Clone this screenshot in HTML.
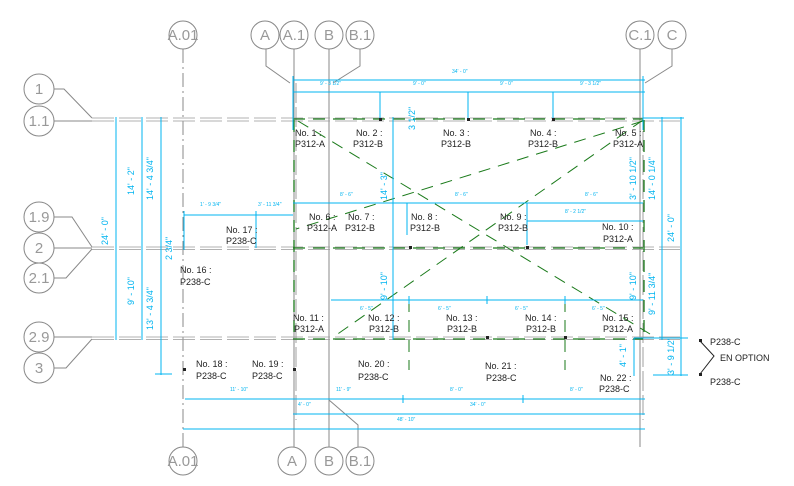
<!DOCTYPE html>
<html><head><meta charset="utf-8"><style>
html,body{margin:0;padding:0;background:#fff;}
svg{display:block;}
.t{font-family:"Liberation Sans",sans-serif;font-size:9px;fill:#222;}
.b{font-family:"Liberation Sans",sans-serif;font-size:15px;fill:#999;text-anchor:middle;}
.d{font-family:"Liberation Sans",sans-serif;font-size:9px;fill:#00b4f0;}
.s{font-family:"Liberation Sans",sans-serif;font-size:5px;fill:#00b4f0;}
</style></head><body>
<svg width="794" height="486" viewBox="0 0 794 486" xmlns="http://www.w3.org/2000/svg">
<g fill="none" stroke="#888" stroke-width="1">
<circle cx="183" cy="35" r="14"/><circle cx="265" cy="35" r="14"/><circle cx="294" cy="35" r="14"/><circle cx="329" cy="35" r="14"/><circle cx="360" cy="35" r="14"/><circle cx="640" cy="35" r="14"/><circle cx="672" cy="35" r="14"/>
<circle cx="183" cy="461" r="14"/><circle cx="292" cy="461" r="14"/><circle cx="329" cy="461" r="14"/><circle cx="360" cy="461" r="14"/>
<circle cx="39" cy="89" r="15"/><circle cx="39" cy="121" r="15"/><circle cx="39" cy="217" r="15"/><circle cx="39" cy="248" r="15"/><circle cx="39" cy="278" r="15"/><circle cx="39" cy="337" r="15"/><circle cx="39" cy="368" r="15"/>
<polyline points="266,49 266,66 290,83"/><polyline points="360,49 360,66 333,83"/><polyline points="672,49 672,66 645,83"/>
<line x1="294" y1="49" x2="294" y2="447"/><line x1="329" y1="49" x2="329" y2="447"/><line x1="640" y1="49" x2="640" y2="447"/>
<polyline points="329,400 358,425 358,447"/>
<polyline points="54,89 64,89 92,118"/><line x1="54" y1="121" x2="92" y2="121"/>
<polyline points="54,217 72,217 92,247"/><line x1="54" y1="248" x2="92" y2="248"/><polyline points="54,278 66,278 92,249"/>
<line x1="54" y1="337" x2="92" y2="337"/><polyline points="54,368 66,368 92,339"/>
<line x1="183" y1="49" x2="183" y2="447" stroke-dasharray="14,4,2,4"/>
<g stroke-dasharray="22,5" stroke="#999" stroke-width="0.8">
<line x1="92" y1="118" x2="680" y2="118"/><line x1="92" y1="121" x2="680" y2="121"/>
<line x1="92" y1="247" x2="680" y2="247"/><line x1="92" y1="249.5" x2="680" y2="249.5"/>
<line x1="92" y1="337" x2="680" y2="337"/><line x1="92" y1="339.5" x2="680" y2="339.5"/>
</g>
<line x1="296" y1="83" x2="296" y2="420" stroke-dasharray="20,4" stroke-width="0.8"/>
<line x1="643" y1="83" x2="643" y2="420" stroke-dasharray="20,4" stroke-width="0.8"/>
</g>
<g stroke="#1a7a1a" stroke-width="1.3" fill="none" stroke-dasharray="12,8">
<line x1="293" y1="119" x2="643" y2="119"/><line x1="293" y1="248" x2="643" y2="248"/><line x1="293" y1="339" x2="643" y2="339"/>
<line x1="294" y1="120" x2="294" y2="340"/><line x1="644" y1="120" x2="644" y2="340"/>
<line x1="298" y1="121" x2="650" y2="334" stroke-width="1"/>
<line x1="643" y1="120" x2="332" y2="338" stroke-width="1"/>
<line x1="643" y1="121" x2="296" y2="229" stroke-width="1"/>
<line x1="409" y1="300" x2="409" y2="370" stroke-width="1"/><line x1="565" y1="300" x2="565" y2="370" stroke-width="1"/>
</g>
<g stroke="#00b4f0" stroke-width="1" fill="none">
<line x1="293" y1="80" x2="645" y2="80"/><line x1="293" y1="92" x2="645" y2="92"/>
<line x1="380" y1="92" x2="380" y2="119"/><line x1="468" y1="92" x2="468" y2="119"/><line x1="553" y1="92" x2="553" y2="119"/>
<line x1="293" y1="76" x2="293" y2="130"/><line x1="643" y1="76" x2="643" y2="130"/>
<line x1="293" y1="203" x2="643" y2="203"/><line x1="527" y1="221" x2="643" y2="221"/><line x1="527" y1="203" x2="527" y2="245"/>
<line x1="407" y1="203" x2="407" y2="235"/><line x1="393" y1="117" x2="393" y2="340"/>
<line x1="331" y1="300" x2="643" y2="300"/><line x1="409" y1="296" x2="409" y2="304"/><line x1="487" y1="296" x2="487" y2="304"/><line x1="565" y1="296" x2="565" y2="304"/>
<line x1="184" y1="215" x2="293" y2="215"/><line x1="184" y1="211" x2="184" y2="250"/><line x1="256" y1="211" x2="256" y2="248"/>
<line x1="116" y1="117" x2="116" y2="340"/><line x1="142" y1="117" x2="142" y2="340"/><line x1="161" y1="117" x2="161" y2="375"/><line x1="155" y1="374" x2="172" y2="374"/>
<line x1="662" y1="117" x2="662" y2="340"/><line x1="681" y1="117" x2="681" y2="376"/><line x1="643" y1="118" x2="684" y2="118"/><line x1="653" y1="375" x2="688" y2="375"/>
<line x1="634" y1="338" x2="634" y2="376"/><line x1="634" y1="338" x2="688" y2="338"/>
<line x1="185" y1="399" x2="645" y2="399"/><line x1="403" y1="395" x2="403" y2="403"/><line x1="523" y1="395" x2="523" y2="403"/>
<line x1="293" y1="414" x2="645" y2="414"/><line x1="183" y1="429" x2="645" y2="429"/>
</g>
<g class="d">
<text class="s" x="452" y="73">34' - 0"</text>
<text class="s" x="320" y="85">9' - 3 1/2"</text><text class="s" x="413" y="85">9' - 0"</text><text class="s" x="500" y="85">9' - 0"</text><text class="s" x="580" y="85">9' - 3 1/2"</text>
<text class="s" x="340" y="196">8' - 6"</text><text class="s" x="455" y="196">8' - 6"</text><text class="s" x="585" y="196">8' - 6"</text><text class="s" x="565" y="213">8' - 2 1/2"</text>
<text class="s" x="200" y="206">1' - 9 3/4"</text><text class="s" x="258" y="206">3' - 11 3/4"</text>
<text class="s" x="360" y="310">6' - 5"</text><text class="s" x="438" y="310">6' - 5"</text><text class="s" x="515" y="310">6' - 5"</text><text class="s" x="592" y="310">6' - 5"</text>
<text class="s" x="230" y="391">11' - 10"</text><text class="s" x="336" y="391">11' - 9"</text><text class="s" x="450" y="391">8' - 0"</text><text class="s" x="570" y="391">8' - 0"</text>
<text class="s" x="298" y="406">4' - 0"</text><text class="s" x="470" y="406">34' - 0"</text><text class="s" x="397" y="421">48' - 10"</text>
<text transform="translate(108,245) rotate(-90)">24' - 0"</text>
<text transform="translate(134,195) rotate(-90)">14' - 2"</text><text transform="translate(134,305) rotate(-90)">9' - 10"</text>
<text transform="translate(153,200) rotate(-90)">14' - 4 3/4"</text><text transform="translate(153,330) rotate(-90)">13' - 4 3/4"</text>
<text transform="translate(172,260) rotate(-90)">2 3/4"</text>
<text transform="translate(387,200) rotate(-90)">14' - 3"</text><text transform="translate(387,300) rotate(-90)">9' - 10"</text>
<text transform="translate(415,130) rotate(-90)">3 1/2"</text>
<text transform="translate(636,200) rotate(-90)">3' - 10 1/2"</text><text transform="translate(655,200) rotate(-90)">14' - 0 1/4"</text>
<text transform="translate(674,242) rotate(-90)">24' - 0"</text>
<text transform="translate(636,300) rotate(-90)">9' - 10"</text><text transform="translate(655,315) rotate(-90)">9' - 11 3/4"</text>
<text transform="translate(626,367) rotate(-90)">4' - 1"</text><text transform="translate(674,375) rotate(-90)">3' - 9 1/2"</text>
</g>
<g class="b">
<text x="183" y="40">A.01</text><text x="265" y="40">A</text><text x="294" y="40">A.1</text><text x="329" y="40">B</text><text x="360" y="40">B.1</text><text x="640" y="40">C.1</text><text x="672" y="40">C</text>
<text x="183" y="466">A.01</text><text x="292" y="466">A</text><text x="329" y="466">B</text><text x="360" y="466">B.1</text>
<text x="39" y="94">1</text><text x="39" y="126">1.1</text><text x="39" y="222">1.9</text><text x="39" y="253">2</text><text x="39" y="283">2.1</text><text x="39" y="342">2.9</text><text x="39" y="373">3</text>
</g>
<g class="t">
<text x="295" y="136">No. 1 :</text><text x="295" y="147">P312-A</text>
<text x="356" y="136">No. 2 :</text><text x="353" y="147">P312-B</text>
<text x="443" y="136">No. 3 :</text><text x="441" y="147">P312-B</text>
<text x="530" y="136">No. 4 :</text><text x="528" y="147">P312-B</text>
<text x="615" y="136">No. 5 :</text><text x="613" y="147">P312-A</text>
<text x="309" y="220">No. 6 :</text><text x="307" y="231">P312-A</text>
<text x="348" y="220">No. 7 :</text><text x="345" y="231">P312-B</text>
<text x="411" y="220">No. 8 :</text><text x="410" y="231">P312-B</text>
<text x="500" y="220">No. 9 :</text><text x="498" y="231">P312-B</text>
<text x="602" y="230">No. 10 :</text><text x="603" y="242">P312-A</text>
<text x="293" y="321">No. 11 :</text><text x="294" y="332">P312-A</text>
<text x="368" y="321">No. 12 :</text><text x="369" y="332">P312-B</text>
<text x="446" y="321">No. 13 :</text><text x="447" y="332">P312-B</text>
<text x="525" y="321">No. 14 :</text><text x="526" y="332">P312-B</text>
<text x="602" y="321">No. 15 :</text><text x="603" y="332">P312-A</text>
<text x="180" y="273">No. 16 :</text><text x="180" y="285">P238-C</text>
<text x="226" y="233">No. 17 :</text><text x="226" y="244">P238-C</text>
<text x="196" y="367">No. 18 :</text><text x="196" y="379">P238-C</text>
<text x="252" y="367">No. 19 :</text><text x="252" y="379">P238-C</text>
<text x="358" y="367">No. 20 :</text><text x="358" y="380">P238-C</text>
<text x="485" y="369">No. 21 :</text><text x="486" y="381">P238-C</text>
<text x="600" y="381">No. 22 :</text><text x="599" y="392">P238-C</text>
<text x="710" y="345">P238-C</text><text x="720" y="361">EN OPTION</text><text x="710" y="385">P238-C</text>
</g>
<polyline points="700,341 714,356 700,374" fill="none" stroke="#222" stroke-width="1"/>
<g fill="#222"><rect x="699" y="339" width="3" height="3"/><rect x="699" y="373" width="3" height="3"/>
<rect x="379" y="118" width="3" height="3"/><rect x="467" y="118" width="3" height="3"/><rect x="552" y="118" width="3" height="3"/>
<rect x="526" y="246" width="3" height="3"/><rect x="409" y="246" width="3" height="3"/><rect x="486" y="336" width="3" height="3"/><rect x="564" y="336" width="3" height="3"/>
<rect x="183" y="368" width="3" height="3"/><rect x="293" y="368" width="3" height="3"/></g>
</svg>
</body></html>
